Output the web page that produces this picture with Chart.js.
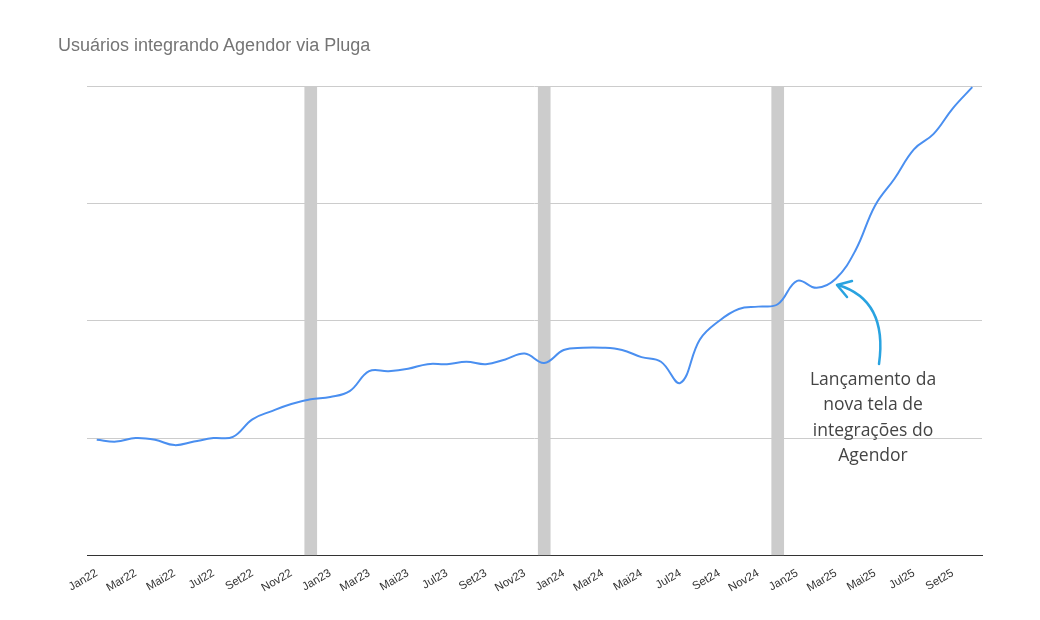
<!DOCTYPE html>
<html><head><meta charset="utf-8">
<script src="https://cdn.jsdelivr.net/npm/chart.js@4"></script>
<style>html,body{margin:0;background:#fff}#t{position:absolute;left:58px;top:35px;font:18px "Liberation Sans",Arial,sans-serif;color:#757575}#w{position:absolute;left:0;top:0;width:1040px;height:620px}</style>
</head><body>
<div id="w"><canvas id="c"></canvas></div>
<div id="t">Usuários integrando Agendor via Pluga</div>
<script>
const months=["Jan","Fev","Mar","Abr","Mai","Jun","Jul","Ago","Set","Out","Nov","Dez"];
const categories=[];for(let y=22;y<=25;y++)for(const m of months){if(categories.length>=46)break;categories.push(m+y);}
const users=[0.985,0.97,1.0,0.985,0.94,0.97,1.0,1.01,1.16,1.23,1.29,1.33,1.35,1.40,1.57,1.57,1.59,1.63,1.63,1.65,1.63,1.67,1.72,1.64,1.75,1.77,1.77,1.75,1.69,1.65,1.47,1.84,2.0,2.10,2.12,2.14,2.34,2.28,2.36,2.60,2.98,3.21,3.46,3.59,3.81,3.99];
const markers=categories.map((c,i)=>(i===11||i===23||i===35)?4:null);
const annotationLines=["Lançamento da","nova tela de","integrações do","Agendor"];
const annot={id:'annot',afterDraw(ch){const x=ch.ctx;x.save();x.fillStyle='#444';x.font='17.5px "Open Sans", Lato, sans-serif';x.textAlign='center';x.textBaseline='middle';
annotationLines.forEach((l,i)=>x.fillText(l,873,380+i*25.3));
x.strokeStyle='#29a3e0';x.lineWidth=2.5;x.lineCap='round';x.lineJoin='round';x.beginPath();x.moveTo(879,364);x.quadraticCurveTo(888,300,838,285);x.stroke();
x.beginPath();x.moveTo(852,281);x.lineTo(837,285);x.lineTo(847,297);x.stroke();x.restore();}};
new Chart(document.getElementById('c'),{data:{labels:categories,datasets:[
{type:'line',data:users,borderColor:'#4a8ff0',borderWidth:2,pointRadius:0,tension:0.4,order:0},
{type:'bar',data:markers,backgroundColor:'#cccccc',barThickness:12,order:1}]},
options:{responsive:true,maintainAspectRatio:false,animation:false,layout:{padding:{left:87,right:58,top:86,bottom:22}},
plugins:{legend:{display:false},tooltip:{enabled:false}},
scales:{x:{offset:true,grid:{display:false},border:{color:'#333'},ticks:{autoSkip:false,maxRotation:30,minRotation:30,color:'#333',font:{size:11.5,family:'Liberation Sans'},callback:(v,i)=>i%2===0?categories[i]:''}},
y:{min:0,max:4,ticks:{display:false,stepSize:1},border:{display:false},grid:{color:'#cccccc',drawTicks:false}}}},plugins:[annot]});
</script></body></html>
